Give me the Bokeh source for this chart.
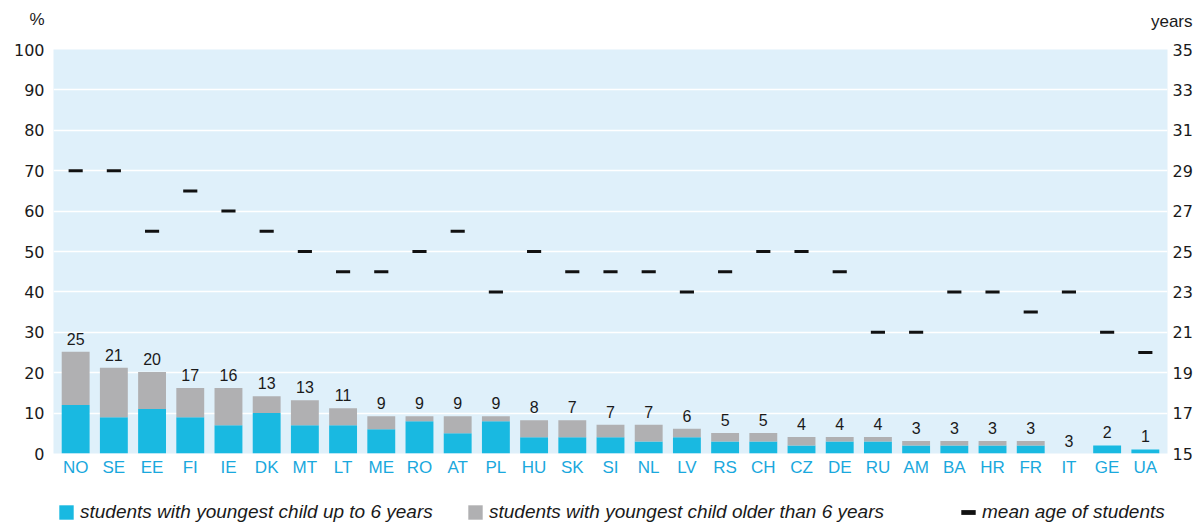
from bokeh.plotting import figure
from bokeh.layouts import column
from bokeh.models import (FactorRange, Range1d, LinearAxis, FixedTicker, Legend,
                          LegendItem, Label, ColumnDataSource)
from bokeh.core.properties import value
from bokeh.embed import file_html
from bokeh.resources import INLINE

countries = ["NO", "SE", "EE", "FI", "IE", "DK", "MT", "LT", "ME", "RO", "AT", "PL", "HU", "SK",
             "SI", "NL", "LV", "RS", "CH", "CZ", "DE", "RU", "AM", "BA", "HR", "FR", "IT", "GE", "UA"]
young_child = [12, 9, 11, 9, 7, 10, 7, 7, 6, 8, 5, 8, 4, 4, 4, 3, 4, 3, 3, 2, 3, 3, 2, 2, 2, 2, 0, 2, 1]
older_child = [13.2, 12.2, 9.2, 7.2, 9.2, 4.2, 6.2, 4.2, 3.2, 1.2, 4.2, 1.2, 4.2, 4.2, 3.1, 4.1, 2.1,
               2.1, 2.1, 2.1, 1.1, 1.1, 1.1, 1.1, 1.1, 1.1, 0, 0, 0]
total_labels = ["25", "21", "20", "17", "16", "13", "13", "11", "9", "9", "9", "9", "8", "7", "7", "7",
                "6", "5", "5", "4", "4", "4", "3", "3", "3", "3", "3", "2", "1"]
mean_age = [29, 29, 26, 28, 27, 26, 25, 24, 24, 25, 26, 23, 25, 24, 24, 24, 23, 24, 25, 25, 24, 21,
            21, 23, 23, 22, 23, 21, 20]
left_ticks = list(range(0, 101, 10))
right_ticks = list(range(15, 36, 2))
legend_labels = ["students with youngest child up to 6 years",
                 "students with youngest child older than 6 years",
                 "mean age of students"]

BLUE = "#19B9E1"
GRAY = "#B0B0B2"
BG = "#DFF0FA"
TXT = "#1a1a1a"
FONT = "Liberation Sans"
NUMFONT = "DejaVu Sans"
W = 1202

totals = [a + b for a, b in zip(young_child, older_child)]
src = ColumnDataSource(dict(country=countries, young=young_child, older=older_child,
                            total=totals, label=total_labels, age=mean_age))

# ---------- header strip with unit labels ----------
head = figure(width=W, height=30, x_range=Range1d(0, W), y_range=Range1d(0, 30),
              x_axis_type=None, y_axis_type=None, toolbar_location=None,
              output_backend="svg", min_border=0, outline_line_color=None,
              frame_align=False)
head.grid.visible = False
head.add_layout(Label(x=44, y=11, text="%", text_align="right", text_baseline="middle",
                      text_font=FONT, text_font_size="17px", text_color=TXT))
head.add_layout(Label(x=1192, y=9, text="years", text_align="right", text_baseline="middle",
                      text_font=FONT, text_font_size="17px", text_color=TXT))

# ---------- main chart ----------
p = figure(x_range=FactorRange(*countries, range_padding=0.08, range_padding_units="absolute"),
           y_range=Range1d(0, 100), width=W, height=455, output_backend="svg",
           toolbar_location=None, min_border_left=53, min_border_right=35,
           min_border_top=19, min_border_bottom=32, background_fill_color=BG,
           border_fill_color="white", outline_line_color=None, frame_align=False)
p.extra_y_ranges = {"years": Range1d(15, 35)}

bars = p.vbar_stack(["young", "older"], x="country", width=0.73, color=[BLUE, GRAY],
                    line_color=None, source=src)

p.text(x="country", y="total", text="label", source=src, text_align="center",
       text_baseline="bottom", y_offset=-7, text_font=value(FONT), text_font_size="16px",
       text_color=TXT)

ages = p.rect(x="country", y="age", width=0.37, height=3, height_units="screen",
              fill_color="#111111", line_color=None, y_range_name="years", source=src)

p.xgrid.grid_line_color = None
p.ygrid.ticker = FixedTicker(ticks=left_ticks)
p.ygrid.grid_line_color = "white"
p.ygrid.grid_line_width = 1.5

ya = p.yaxis[0]
ya.ticker = FixedTicker(ticks=left_ticks)
ya.major_label_standoff = 9

ra = LinearAxis(y_range_name="years", ticker=FixedTicker(ticks=right_ticks))
ra.major_label_standoff = 5
p.add_layout(ra, "right")

xa = p.xaxis[0]
xa.major_label_standoff = 4

for ax in (ya, ra, xa):
    ax.axis_line_color = None
    ax.major_tick_line_color = None
    ax.minor_tick_line_color = None
    ax.major_tick_out = 0
    ax.major_tick_in = 0
    ax.minor_tick_out = 0
    ax.major_label_text_font = NUMFONT
    ax.major_label_text_font_size = "16px"
    ax.major_label_text_color = TXT
xa.major_label_text_font = FONT
xa.major_label_text_font_size = "17px"
xa.major_label_text_color = "#1AA8DD"

# ---------- footer strip with legend ----------
foot = figure(width=W, height=38, x_range=Range1d(0, W), y_range=Range1d(0, 38),
              x_axis_type=None, y_axis_type=None, toolbar_location=None,
              output_backend="svg", min_border=0, outline_line_color=None,
              frame_align=False)
foot.grid.visible = False
lb = foot.vbar(x=[-100], top=[-100], width=1, fill_color=BLUE, line_color=None)
lg = foot.vbar(x=[-100], top=[-100], width=1, fill_color=GRAY, line_color=None)
lm = foot.rect(x=[-100], y=[-100], width=1, height=1, fill_color="#111111", line_color=None)


def make_legend(label, renderer, loc, gw, gh):
    leg = Legend(items=[LegendItem(label=label, renderers=[renderer])], location=loc,
                 orientation="horizontal", glyph_width=gw, glyph_height=gh, label_standoff=5,
                 padding=0, margin=0, border_line_color=None, background_fill_alpha=0,
                 label_text_font=FONT, label_text_font_style="italic",
                 label_text_font_size="19px", label_text_color=TXT)
    foot.add_layout(leg)


make_legend(legend_labels[0], lb, (57, 0), 18, 18)
make_legend(legend_labels[1], lg, (466, 0), 18, 18)
make_legend(legend_labels[2], lm, (959, 0), 18, 6)

layout = column(head, p, foot, spacing=0)
open("out.html", "w").write(file_html(layout, INLINE))
